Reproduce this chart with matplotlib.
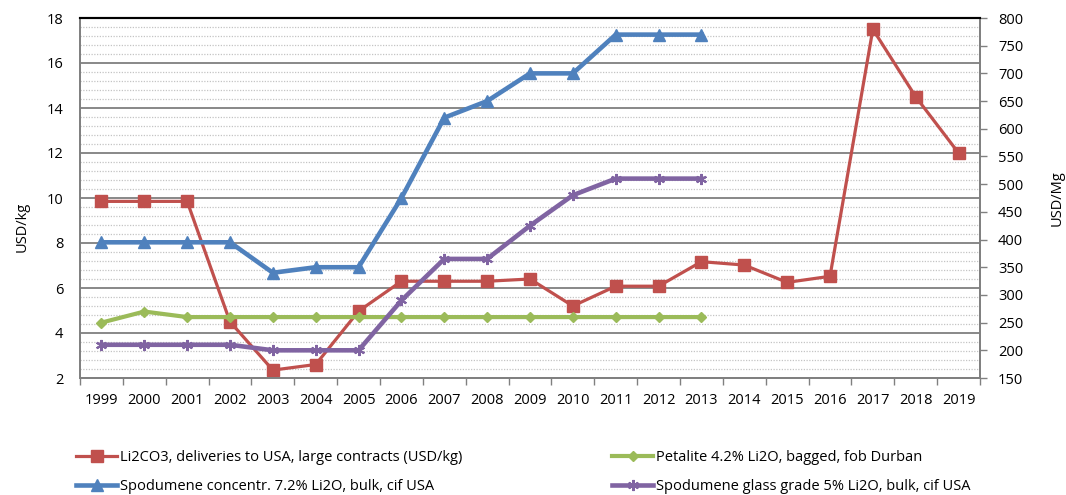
import numpy as np
import matplotlib
matplotlib.use('Agg')
import matplotlib.pyplot as plt
from matplotlib.ticker import MultipleLocator, FixedLocator

plt.rcParams['font.family'] = ['Open Sans', 'DejaVu Sans']

years = [str(y) for y in range(1999, 2020)]

# left axis (USD/kg)
li2co3 = [9.85, 9.85, 9.85, 4.5, 2.35, 2.6, 4.97, 6.3, 6.3, 6.3, 6.4, 5.2, 6.08, 6.08,
          7.17, 7.02, 6.25, 6.52, 17.5, 14.5, 12.0]
# right axis (USD/Mg), 1999-2013
petalite = [250, 270, 260, 260, 260, 260, 260, 260, 260, 260, 260, 260, 260, 260, 260]
spod_conc = [395, 395, 395, 395, 340, 350, 350, 475, 620, 650, 700, 700, 770, 770, 770]
spod_glass = [210, 210, 210, 210, 200, 200, 200, 290, 365, 365, 425, 480, 510, 510, 510]

labels = ['Li2CO3, deliveries to USA, large contracts (USD/kg)',
          'Petalite 4.2% Li2O, bagged, fob Durban',
          'Spodumene concentr. 7.2% Li2O, bulk, cif USA',
          'Spodumene glass grade 5% Li2O, bulk, cif USA']

red, green, blue, purple = '#C0504D', '#9BBB59', '#4F81BD', '#8064A2'

fig = plt.figure(figsize=(10.66, 4.95), dpi=100)
ax = fig.add_axes([80 / 1066, 1 - 378 / 495, 900 / 1066, 360 / 495])
ax2 = ax.twinx()

x = np.arange(len(years))
x13 = np.arange(len(petalite))

l1, = ax.plot(x, li2co3, color=red, lw=2.3, marker='s', ms=8.5, zorder=3)
l2, = ax2.plot(x13, petalite, color=green, lw=3, marker='D', ms=5.5)
l3, = ax2.plot(x13, spod_conc, color=blue, lw=3.3, marker='^', ms=8.5)
l4, = ax2.plot(x13, spod_glass, color=purple, lw=3.3, marker=(6, 2, 0), ms=8, mew=1.5)

ax.set_xlim(-0.5, len(years) - 0.5)
ax.set_ylim(2, 18)
ax2.set_ylim(150, 800)

ax.set_xticks(x)
ax.set_xticklabels(years)
ax.xaxis.set_minor_locator(FixedLocator(np.arange(-0.5, len(years), 1)))
ax.tick_params(axis='x', which='major', length=0, pad=11, labelsize=10.5)
ax.tick_params(axis='x', which='minor', length=5, color='#808080', width=1)

ax.yaxis.set_major_locator(MultipleLocator(2))
ax.yaxis.set_minor_locator(MultipleLocator(0.4))
ax.tick_params(axis='y', which='both', length=0, pad=12, labelsize=10.5)
ax.grid(axis='y', which='major', color='#7f7f7f', lw=1.3)
ax.grid(axis='y', which='minor', color='#c4c4c4', lw=0.9, linestyle=(0, (1, 1.2)))
ax.set_axisbelow(True)

ax2.yaxis.set_major_locator(MultipleLocator(50))
ax2.tick_params(axis='y', which='major', length=5, width=1, color='#808080', pad=8, labelsize=10.5)

for a in (ax, ax2):
    for s in ('left', 'right', 'bottom'):
        a.spines[s].set_color('#808080')
        a.spines[s].set_linewidth(1.3)
    a.spines['top'].set_color('black')
    a.spines['top'].set_linewidth(1.5)

ax.set_ylabel('USD/kg', fontsize=10.5)
ax.yaxis.set_label_coords(-50 / 900, 0.42)
ax2.set_ylabel('USD/Mg', fontsize=10.5)
ax2.yaxis.set_label_coords(1 + 70 / 900, 0.5)

fig.legend([l1, l3, l2, l4], [labels[0], labels[2], labels[1], labels[3]],
           ncol=2, loc='lower left', bbox_to_anchor=(63 / 1066, -0.024),
           frameon=False, fontsize=10.5, handlelength=2.8, handletextpad=0.2,
           columnspacing=10.3, labelspacing=0.95)

fig.savefig('out.png', dpi=100)
